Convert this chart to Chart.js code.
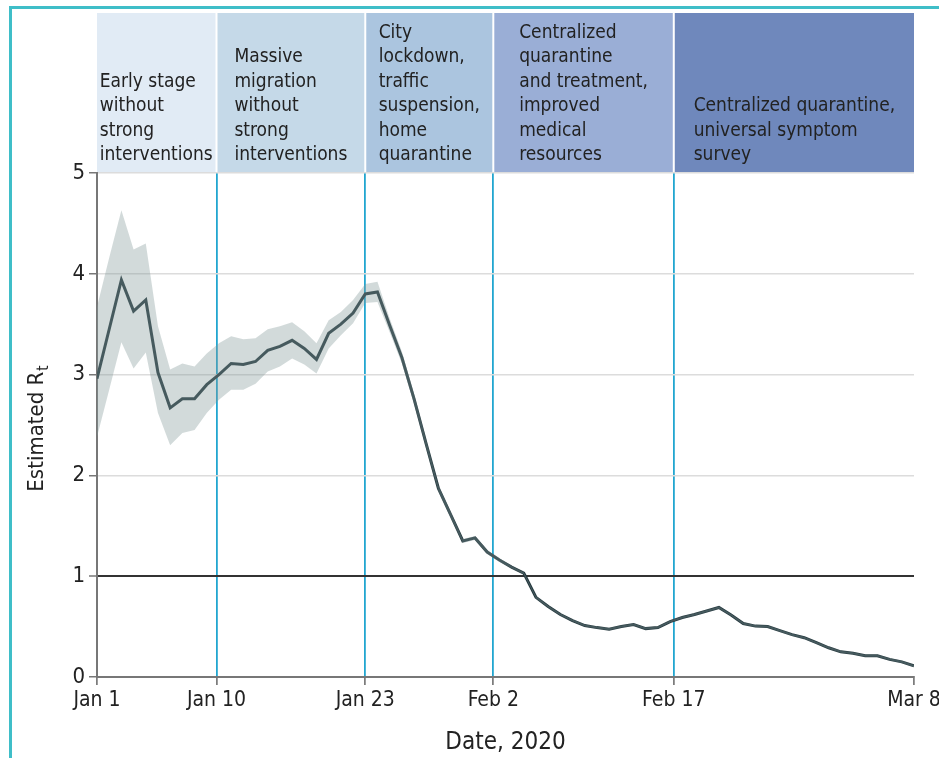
<!DOCTYPE html>
<html>
<head>
<meta charset="utf-8">
<script src="https://cdn.jsdelivr.net/npm/chart.js"></script>
<style>
  html, body { margin: 0; padding: 0; background: #fff; }
  #wrap { position: relative; width: 939px; height: 758px; }
</style>
</head>
<body>
<div id="wrap"><canvas id="c"></canvas></div>
<script>
// Day offsets from Jan 1, 2020 where the axis ticks and phase boundaries sit
const tickDays = [0, 9.8, 22, 32.5, 47.3, 67];
const tickLabels = ['Jan 1', 'Jan 10', 'Jan 23', 'Feb 2', 'Feb 17', 'Mar 8'];

// Intervention phases shown above the plot
const phaseLabels = [
  ['Early stage', 'without', 'strong', 'interventions'],
  ['Massive', 'migration', 'without', 'strong', 'interventions'],
  ['City', 'lockdown,', 'traffic', 'suspension,', 'home', 'quarantine'],
  ['Centralized', 'quarantine', 'and treatment,', 'improved', 'medical', 'resources'],
  ['Centralized quarantine,', 'universal symptom', 'survey']
];
const phaseColors = ['#e1ebf5', '#c5d9e8', '#abc5df', '#9aaed6', '#6f88bc'];

// Daily estimated Rt, Jan 1 - Mar 8, 2020
const rt = [
  2.96, 3.45, 3.94, 3.63, 3.74, 3.02, 2.67, 2.76, 2.76, 2.90,
  3.00, 3.11, 3.10, 3.13, 3.24, 3.28, 3.34, 3.26, 3.15, 3.41,
  3.50, 3.61, 3.80, 3.82, 3.49, 3.17, 2.76, 2.31, 1.87, 1.61,
  1.35, 1.38, 1.24, 1.16, 1.09, 1.03, 0.79, 0.70, 0.62, 0.56,
  0.51, 0.49, 0.475, 0.50, 0.52, 0.48, 0.49, 0.55, 0.59, 0.62,
  0.655, 0.69, 0.615, 0.53, 0.505, 0.50, 0.46, 0.42, 0.39, 0.34,
  0.29, 0.25, 0.235, 0.21, 0.21, 0.175, 0.15, 0.11
];
// 95% credible interval bounds
const rtUpper = [
  3.67, 4.16, 4.63, 4.24, 4.30, 3.48, 3.05, 3.11, 3.08, 3.21,
  3.31, 3.38, 3.35, 3.36, 3.45, 3.48, 3.52, 3.43, 3.31, 3.54,
  3.62, 3.74, 3.90, 3.92, 3.56, 3.23, 2.81, 2.35, 1.90, 1.64,
  1.37, 1.40, 1.26, 1.18, 1.10, 1.04, 0.80, 0.71, 0.63, 0.57,
  0.52, 0.50, 0.485, 0.51, 0.53, 0.49, 0.50, 0.56, 0.60, 0.63,
  0.665, 0.70, 0.625, 0.54, 0.515, 0.51, 0.47, 0.43, 0.40, 0.35,
  0.30, 0.26, 0.245, 0.22, 0.22, 0.185, 0.16, 0.12
];
const rtLower = [
  2.38, 2.85, 3.32, 3.06, 3.22, 2.62, 2.30, 2.42, 2.45, 2.62,
  2.75, 2.85, 2.85, 2.91, 3.03, 3.08, 3.16, 3.10, 3.01, 3.26,
  3.39, 3.51, 3.71, 3.72, 3.42, 3.11, 2.71, 2.27, 1.84, 1.58,
  1.33, 1.36, 1.22, 1.14, 1.08, 1.02, 0.78, 0.69, 0.61, 0.55,
  0.50, 0.48, 0.465, 0.49, 0.51, 0.47, 0.48, 0.54, 0.58, 0.61,
  0.645, 0.68, 0.605, 0.52, 0.495, 0.49, 0.45, 0.41, 0.38, 0.33,
  0.28, 0.24, 0.225, 0.20, 0.20, 0.165, 0.14, 0.10
];

const FONT = "'DejaVu Sans Condensed', 'Liberation Sans', Arial, sans-serif";
const toPoints = arr => arr.map((v, i) => ({ x: i, y: v }));

// Teal frame around the figure
const framePlugin = {
  id: 'frame',
  beforeDraw(chart) {
    const ctx = chart.ctx;
    ctx.save();
    ctx.fillStyle = '#3fbec8';
    ctx.fillRect(9, 6, chart.width - 9, 3);
    ctx.fillRect(9, 6, 3, chart.height - 6);
    ctx.restore();
  }
};

// Shaded phase boxes with their captions
const phasePlugin = {
  id: 'phases',
  afterDraw(chart) {
    const { ctx, chartArea } = chart;
    const xs = chart.scales.x;
    const top = 13, bottom = chartArea.top - 1;
    ctx.save();
    ctx.font = '19px ' + FONT;
    ctx.textBaseline = 'alphabetic';
    ctx.textAlign = 'left';
    phaseLabels.forEach((lines, i) => {
      const left = i === 0 ? chartArea.left : xs.getPixelForValue(tickDays[i]) + 1;
      const right = i === phaseLabels.length - 1 ? chartArea.right : xs.getPixelForValue(tickDays[i + 1]) - 1;
      ctx.fillStyle = phaseColors[i];
      ctx.fillRect(left, top, right - left, bottom - top);
      const maxW = Math.max(...lines.map(l => ctx.measureText(l).width));
      const tx = left + (right - left - maxW) / 2;
      const lh = 24.4;
      const lastBase = bottom - 12;
      ctx.fillStyle = '#222';
      lines.forEach((l, k) => {
        ctx.fillText(l, tx, lastBase - (lines.length - 1 - k) * lh);
      });
    });
    ctx.restore();
  }
};

// Rotated y-axis title with subscript
const yTitlePlugin = {
  id: 'yTitle',
  afterDraw(chart) {
    const { ctx, chartArea } = chart;
    const cy = (chartArea.top + chartArea.bottom) / 2 + 4;
    ctx.save();
    ctx.translate(37, cy);
    ctx.rotate(-Math.PI / 2);
    ctx.fillStyle = '#222';
    ctx.textBaseline = 'middle';
    ctx.textAlign = 'left';
    const main = 'Estimated R', sub = 't';
    ctx.font = '22px ' + FONT;
    const w1 = ctx.measureText(main).width;
    ctx.font = '15px ' + FONT;
    const w2 = ctx.measureText(sub).width;
    const x0 = -(w1 + w2) / 2;
    ctx.font = '22px ' + FONT;
    ctx.fillText(main, x0, 0);
    ctx.font = '15px ' + FONT;
    ctx.fillText(sub, x0 + w1 + 1, 7);
    ctx.restore();
  }
};

new Chart(document.getElementById('c'), {
  type: 'line',
  data: {
    datasets: [
      {
        data: toPoints(rtUpper),
        borderWidth: 0,
        pointRadius: 0,
        fill: '+1',
        backgroundColor: 'rgba(130,152,152,0.36)',
        borderColor: 'rgba(0,0,0,0)'
      },
      {
        data: toPoints(rtLower),
        borderWidth: 0,
        pointRadius: 0,
        fill: false,
        borderColor: 'rgba(0,0,0,0)'
      },
      {
        data: toPoints(rt),
        borderColor: '#25383e',
        borderWidth: 3,
        pointRadius: 0,
        fill: false,
        tension: 0
      }
    ]
  },
  options: {
    responsive: true,
    maintainAspectRatio: false,
    animation: false,
    devicePixelRatio: 1,
    layout: { padding: { top: 173, right: 25, left: 0, bottom: 0 } },
    plugins: { legend: { display: false }, tooltip: { enabled: false } },
    scales: {
      x: {
        type: 'linear',
        min: 0,
        max: 67,
        afterBuildTicks(scale) {
          scale.ticks = tickDays.map(v => ({ value: v }));
        },
        afterFit(scale) {
          scale.height = 81;
          scale.paddingLeft = 0;
          scale.paddingRight = 0;
        },
        ticks: {
          autoSkip: false,
          maxRotation: 0,
          padding: 3,
          color: '#222',
          font: { family: FONT, size: 21 },
          callback: (v) => tickLabels[tickDays.indexOf(v)]
        },
        grid: {
          drawTicks: true,
          tickLength: 8,
          tickColor: '#666',
          tickWidth: 1.5,
          lineWidth: 1.8,
          color: (c) => (c.tick && (c.tick.value === 0 || c.tick.value === 67)) ? 'rgba(0,0,0,0)' : '#22a6d0'
        },
        border: { color: '#777', width: 2 },
        title: {
          display: true,
          text: 'Date, 2020',
          color: '#222',
          font: { family: FONT, size: 24 },
          padding: { top: 4, bottom: 1 }
        }
      },
      y: {
        min: 0,
        max: 5,
        afterFit(scale) {
          scale.width = 97;
        },
        ticks: {
          stepSize: 1,
          padding: 4,
          color: '#222',
          font: { family: FONT, size: 22 }
        },
        grid: {
          drawTicks: true,
          tickLength: 8,
          tickColor: '#777',
          tickWidth: 1.5,
          color: (c) => c.tick && c.tick.value === 1 ? '#333' : (c.tick && c.tick.value === 0 ? 'rgba(0,0,0,0)' : '#dcdcdc'),
          lineWidth: (c) => c.tick && c.tick.value === 1 ? 2 : 1.5
        },
        border: { color: '#777', width: 2 }
      }
    }
  },
  plugins: [framePlugin, phasePlugin, yTitlePlugin]
});
</script>
</body>
</html>
